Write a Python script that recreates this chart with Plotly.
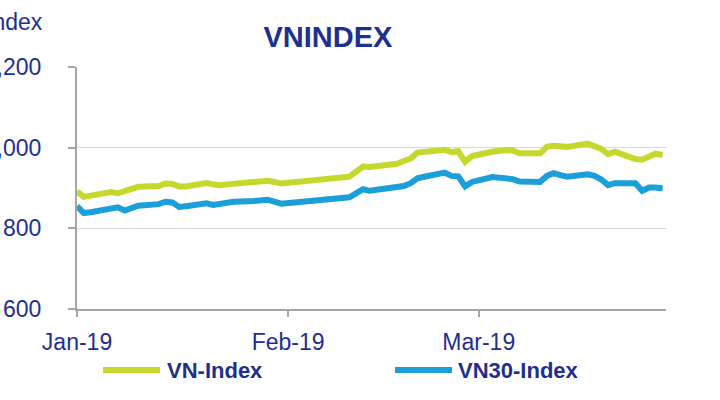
import plotly.graph_objects as go

dates = ["2019-01-02", "2019-01-03", "2019-01-04", "2019-01-07", "2019-01-08", "2019-01-09",
         "2019-01-10", "2019-01-11", "2019-01-14", "2019-01-15", "2019-01-16", "2019-01-17",
         "2019-01-18", "2019-01-21", "2019-01-22", "2019-01-23", "2019-01-24", "2019-01-25",
         "2019-01-28", "2019-01-29", "2019-01-30", "2019-01-31", "2019-02-01", "2019-02-11",
         "2019-02-12", "2019-02-13", "2019-02-14", "2019-02-15", "2019-02-18", "2019-02-19",
         "2019-02-20", "2019-02-21", "2019-02-22", "2019-02-25", "2019-02-26", "2019-02-27",
         "2019-02-28", "2019-03-01", "2019-03-04", "2019-03-05", "2019-03-06", "2019-03-07",
         "2019-03-08", "2019-03-11", "2019-03-12", "2019-03-13", "2019-03-14", "2019-03-15",
         "2019-03-18", "2019-03-19", "2019-03-20", "2019-03-21", "2019-03-22", "2019-03-25",
         "2019-03-26", "2019-03-27", "2019-03-28", "2019-03-29"]

vn_index = [892, 878, 881, 890, 887, 893, 900, 903, 905, 911, 910, 904,
            904, 912, 909, 907, 909, 910, 914, 916, 918, 915, 911, 928,
            940, 953, 952, 954, 960, 967, 973, 988, 990, 995, 989, 991,
            965, 979, 990, 993, 994, 993, 986, 986, 1002, 1005, 1004, 1002,
            1010, 1004, 997, 984, 990, 972, 970, 978, 985, 982]

vn30_index = [855, 838, 840, 847, 852, 844, 852, 856, 860, 866, 864, 853,
              855, 862, 858, 860, 864, 866, 868, 870, 871, 866, 861, 877,
              888, 897, 893, 895, 900, 905, 912, 924, 928, 938, 930, 929,
              904, 915, 927, 926, 924, 922, 916, 915, 930, 937, 932, 928,
              934, 930, 921, 907, 912, 912, 893, 901, 901, 899]

series_names = ["VN-Index", "VN30-Index"]
series_colors = ["#c6d82b", "#1b9fd8"]

x_tickvals = ["2019-01-02", "2019-02-02", "2019-03-02"]
x_ticktext = ["Jan-19", "Feb-19", "Mar-19"]
y_tickvals = [600, 800, 1000, 1200]
y_ticktext = ["600", "800", "1,000", "1,200"]

navy = "#1f2f8f"
font_family = "Liberation Sans, Arial, sans-serif"

fig = go.Figure()
for name, vals, col in zip(series_names, [vn_index, vn30_index], series_colors):
    fig.add_trace(go.Scatter(x=dates, y=vals, mode="lines", name=name,
                             line=dict(color=col, width=6), showlegend=False))

fig.update_layout(
    width=720, height=400,
    margin=dict(l=77, r=54, t=67, b=91, autoexpand=False),
    paper_bgcolor="white", plot_bgcolor="white",
    font=dict(family=font_family, color=navy, size=20),
    title=dict(text="VNINDEX", x=328 / 720, xanchor="center", xref="container",
               y=1 - 37 / 400, yanchor="middle", yref="container",
               font=dict(family=font_family, size=29, color=navy, weight="bold")),
)

fig.update_xaxes(
    type="date", range=["2019-01-02", "2019-03-29 12:00"],
    tickmode="array", tickvals=x_tickvals, ticktext=x_ticktext,
    showgrid=False, zeroline=False,
    showline=True, linecolor="#a6a6a6", linewidth=2,
    ticks="outside", ticklen=6, tickcolor="#a6a6a6", tickwidth=2,
    tickfont=dict(size=23, color=navy, family=font_family),
    ticklabelstandoff=5, automargin=False,
)
fig.update_yaxes(
    range=[600, 1200], tickmode="array", tickvals=y_tickvals, ticktext=y_ticktext,
    showgrid=True, gridcolor="#d9d9d9", gridwidth=1.3, zeroline=False,
    showline=True, linecolor="#a6a6a6", linewidth=2,
    ticks="outside", ticklen=7, tickcolor="#a6a6a6", tickwidth=2,
    tickfont=dict(size=23, color=navy, family=font_family),
    ticklabelstandoff=22, automargin=False,
)

# axis title "Index" (partially cut at the page's left edge)
fig.add_annotation(text="Index", xref="paper", yref="paper",
                   x=(45 - 77) / 589, y=(309 - 22) / 242, xanchor="right", yanchor="middle",
                   showarrow=False, font=dict(size=23, color=navy, family=font_family))

# custom legend
legend_items = [(103, 160, 165), (395, 452, 456)]
for (x0, x1, xt), name, col in zip(legend_items, series_names, series_colors):
    yy = (309 - 370) / 242
    fig.add_shape(type="line", xref="paper", yref="paper",
                  x0=(x0 - 77) / 589, x1=(x1 - 77) / 589, y0=yy, y1=yy,
                  line=dict(color=col, width=6))
    fig.add_annotation(text=name, xref="paper", yref="paper",
                       x=(xt - 77) / 589, y=yy, xanchor="left", yanchor="middle",
                       showarrow=False,
                       font=dict(size=22, color=navy, family=font_family, weight="bold"))

fig.write_html("out.html")
